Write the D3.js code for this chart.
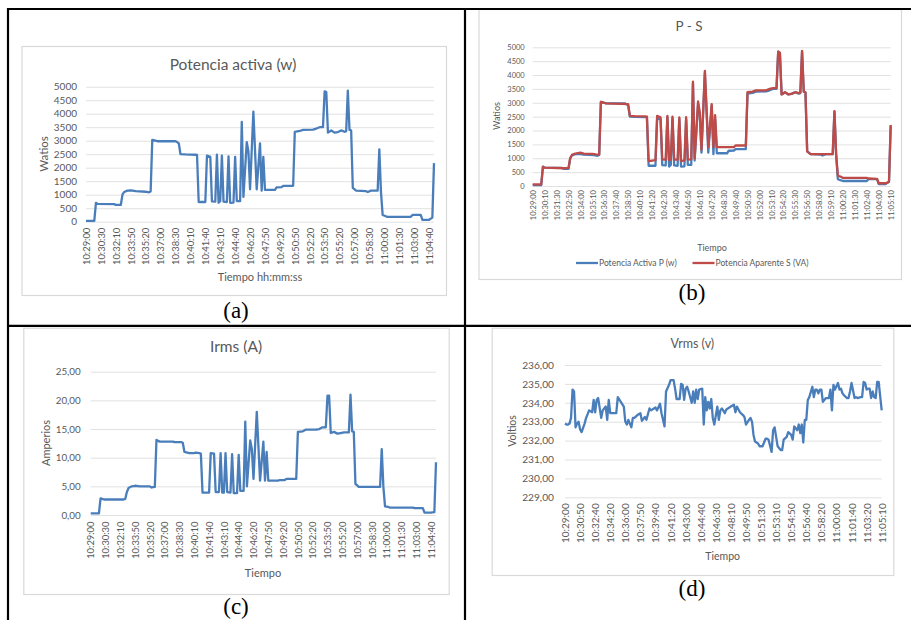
<!DOCTYPE html>
<html>
<head>
<meta charset="utf-8">
<script src="https://cdn.jsdelivr.net/npm/d3@7"></script>
<style>
body { margin: 0; background: #fff; }
svg text { font-family: Lato, "Open Sans", sans-serif; fill: #595959; }
svg text.cap { font-family: "Liberation Serif", "DejaVu Serif", serif; fill: #000; }
</style>
</head>
<body>
<div id="fig"></div>
<script>
/** Mediciones 10:29:00 - 11:05:10 (211 muestras) *****/

var sampleCount = 211;

// tick labels (one every 9, 7 and 10 samples)
var ticksAC = ["10:29:00","10:30:30","10:32:10","10:33:50","10:35:20","10:37:00","10:38:30","10:40:10",
    "10:41:40","10:43:10","10:44:40","10:46:20","10:47:50","10:49:20","10:50:50","10:52:20","10:53:50",
    "10:55:20","10:57:00","10:58:30","11:00:00","11:01:30","11:03:00","11:04:40"];
var ticksB = ["10:29:00","10:30:10","10:31:30","10:32:50","10:34:00","10:35:10","10:36:30","10:37:40",
    "10:38:50","10:40:10","10:41:20","10:42:30","10:43:40","10:44:50","10:46:10","10:47:20","10:48:30",
    "10:49:40","10:50:50","10:52:00","10:53:10","10:54:20","10:55:30","10:56:50","10:58:00","10:59:10",
    "11:00:20","11:01:30","11:02:40","11:04:00","11:05:10"];
var ticksD = ["10:29:00","10:30:50","10:32:40","10:34:20","10:36:00","10:37:50","10:39:40","10:41:20",
    "10:43:00","10:44:40","10:46:30","10:48:10","10:49:50","10:51:30","10:53:10","10:54:50","10:56:40",
    "10:58:20","11:00:00","11:01:40","11:03:20","11:05:10"];

// Potencia activa P (W): sample index / value
var pIdx = [0,5,6,7,17,18,21,22,23,25,27,30,36,38,39,40,42,43,54,55,56,57,60,66,67,68,72,73,75,76,78,79,80,81,
    82,83,85,86,87,89,90,91,93,94,95,97,98,99,101,103,105,106,107,108,114,115,118,119,125,126,129,131,137,139,
    141,143,144,145,146,148,150,152,154,156,157,158,159,160,161,163,169,170,172,176,177,178,179,181,182,196,
    197,202,203,207,209,210];
var pVal = [30,30,700,660,650,620,620,1000,1100,1150,1160,1130,1110,1090,1120,3030,3000,2980,2980,2950,2900,
    2500,2490,2480,2470,730,730,2450,2400,750,740,2480,700,760,2450,740,730,2420,700,710,2400,760,760,3700,920,
    2950,2600,1200,4080,1200,2900,1150,2400,1180,1180,1270,1280,1330,1330,3330,3360,3400,3410,3450,3500,3500,
    4830,4800,3300,3380,3300,3320,3380,3330,3350,4850,3400,3380,1250,1150,1130,1100,1150,1150,2680,1100,250,
    200,180,180,250,250,70,70,150,2170];

// Potencia aparente S (VA)
var sIdx = [0,5,6,7,19,21,22,23,25,28,30,35,37,39,40,42,43,52,56,57,60,66,67,68,72,73,75,76,78,79,80,81,82,
    83,85,86,87,89,90,91,93,94,95,97,98,99,101,103,105,106,107,108,118,119,125,126,129,131,137,139,141,143,
    144,145,146,148,150,152,154,156,157,158,159,160,161,163,176,177,178,179,181,182,196,197,202,203,207,209,210];
var sVal = [60,60,690,660,640,650,1000,1120,1170,1200,1170,1160,1140,1130,3030,3000,2980,2960,2950,2530,2520,
    2510,2500,900,930,2530,2480,960,950,2530,930,960,2500,950,950,2470,900,920,2480,950,960,3760,1000,3050,
    2650,1300,4150,1400,2950,1400,2550,1400,1400,1460,1460,3380,3400,3450,3450,3500,3530,3530,4850,4800,3300,
    3380,3300,3330,3380,3350,3370,4870,3400,3380,1250,1150,1150,2700,1150,370,330,290,290,270,260,100,100,150,2200];

// Irms (A)
var iIdx = [0,5,6,7,8,20,21,22,23,25,27,30,36,37,39,40,42,50,51,55,56,57,60,63,64,66,67,68,72,73,75,76,78,79,
    80,81,82,83,85,86,87,89,90,91,93,94,95,97,98,99,101,103,105,106,107,108,114,115,118,119,125,126,129,131,
    137,139,141,143,144,145,146,148,150,152,154,156,157,158,159,160,161,162,163,176,177,178,179,181,182,196,
    197,202,203,207,209,210];
var iVal = [0.3,0.3,2.9,2.8,2.7,2.7,2.8,4.0,4.7,5.0,5.1,5.0,5.0,4.8,4.9,13.1,12.8,12.8,12.7,12.7,12.6,11.0,10.8,
    10.8,10.9,10.8,10.7,3.9,3.9,10.8,10.7,4.0,4.0,10.8,3.9,3.9,10.8,4.0,3.9,10.6,3.8,3.8,10.5,4.2,4.2,16.3,5.0,
    13.0,11.5,6.3,18.0,6.0,12.8,6.0,11.0,6.0,6.0,6.1,6.1,6.3,6.3,14.5,14.6,14.9,14.9,15.0,15.3,15.3,20.8,20.8,
    14.3,14.5,14.2,14.3,14.4,14.4,14.4,21.0,14.6,14.5,5.4,5.2,4.9,4.9,11.5,4.9,1.5,1.4,1.3,1.3,1.2,1.2,0.4,0.4,
    0.5,9.2];

// Vrms (V)
var vIdx = [0,1,2,3,4,5,6,7,8,9,10,11,13,14,16,18,19,20,21,22,24,25,27,28,29,30,32,34,35,37,39,40,41,42,44,45,
    46,48,50,51,53,54,56,57,59,60,61,63,64,66,67,69,70,72,73,74,76,77,78,79,80,81,82,84,85,86,87,88,89,91,92,
    93,94,95,96,97,98,99,101,102,103,104,106,107,109,110,112,113,114,116,118,119,120,122,123,124,125,126,128,
    129,131,133,134,135,137,138,139,140,141,143,144,145,147,148,150,151,152,154,155,156,157,158,159,160,161,
    162,164,165,166,167,168,169,170,171,173,175,176,177,178,179,181,182,183,184,185,187,188,189,190,192,193,
    194,196,197,198,199,200,201,202,203,204,205,206,207,208,210];
var vVal = [232.9,232.85,232.85,232.9,233.2,234.7,234.6,232.7,232.9,233.0,232.6,232.45,232.9,233.2,233.6,233.5,
    234.15,233.5,234.15,234.25,233.2,233.6,233.8,233.1,234.15,233.45,233.45,233.45,234.3,234.05,233.8,233.0,
    232.85,233.1,232.7,233.2,233.2,233.35,233.45,233.05,233.25,233.1,233.7,233.6,233.7,233.75,233.6,233.95,
    233.45,232.75,234.6,234.95,235.2,235.2,234.75,234.2,234.2,235.0,234.95,234.15,234.75,234.85,234.6,234.0,
    234.6,234.0,234.7,234.2,234.7,234.75,232.85,234.3,233.6,234.05,233.7,234.2,233.2,232.85,233.8,233.1,233.6,
    233.7,233.45,233.65,233.75,233.8,233.9,233.5,233.8,233.5,233.35,233.25,232.85,233.1,233.2,233.0,232.3,
    231.95,231.85,231.7,231.7,232.1,232.1,232.05,231.4,232.55,232.7,232.2,231.7,231.5,231.5,232.05,232.2,
    232.45,232.3,232.05,232.75,232.55,232.85,232.4,232.85,231.9,233.1,233.1,234.15,234.3,234.85,234.3,234.7,
    234.7,234.5,234.7,234.7,234.05,234.25,234.25,234.7,233.6,234.95,234.7,235.05,234.7,234.75,234.5,
    234.4,234.25,234.25,234.6,235.05,234.25,234.3,234.25,234.3,234.3,235.1,235.05,234.7,234.75,234.75,234.25,
    234.6,234.3,234.25,235.1,235.1,233.6];

//**************************************************/

var blue = "#4a7ebb";
var red = "#be4b48";
var grey = "#d9d9d9";
var es = d3.formatLocale({decimal: ",", thousands: ".", grouping: [3], currency: ["", "€"]});

var svg = d3.select("#fig").append("svg")
    .attr("width", 911)
    .attr("height", 620);

function panel(o) {
    var g = svg.append("g");

    // chart area border
    g.append("rect")
        .attr("x", o.box[0] + 0.5)
        .attr("y", o.box[1] + 0.5)
        .attr("width", o.box[2] - o.box[0])
        .attr("height", o.box[3] - o.box[1])
        .style("fill", "#fff")
        .style("stroke", grey)
        .style("stroke-width", 1.2);

    var x = d3.scaleLinear().domain([0, sampleCount - 1]).range([o.left, o.right]);
    var y = d3.scaleLinear().domain(o.yDomain).range([o.bottom, o.top]);

    // gridlines + value labels
    var ya = g.append("g")
        .attr("transform", "translate(" + o.left + ",0)")
        .call(d3.axisLeft(y).tickValues(o.yTicks).tickFormat(o.yFormat)
            .tickSize(-(o.right - o.left)).tickPadding(o.yPad));
    ya.select(".domain").remove();
    ya.selectAll("line").style("stroke", grey).style("stroke-width", 0.8);
    ya.selectAll("text").style("font-size", o.yFont + "px").style("fill", "#595959");

    // time labels, rotated
    var xa = g.append("g")
        .attr("transform", "translate(0," + o.bottom + ")")
        .call(d3.axisBottom(x)
            .tickValues(o.xLabels.map(function(d, i) { return i * o.step; }))
            .tickFormat(function(d, i) { return o.xLabels[i]; })
            .tickSize(0));
    xa.select(".domain").remove();
    xa.selectAll("text")
        .attr("transform", "rotate(-90)")
        .attr("text-anchor", "end")
        .attr("x", -o.xPad)
        .attr("y", 0)
        .attr("dy", "0.35em")
        .style("font-size", o.xFont + "px")
        .style("fill", "#595959");

    // lines
    var line = d3.line()
        .x(function(d) { return x(d[0]); })
        .y(function(d) { return y(d[1]); });
    o.series.forEach(function(s) {
        g.append("path")
            .datum(d3.zip(s.idx, s.val))
            .attr("d", line)
            .style("fill", "none")
            .style("stroke", s.color)
            .style("stroke-width", 2.3)
            .style("stroke-linejoin", "round");
    });

    // title
    g.append("text")
        .attr("x", o.title[1])
        .attr("y", o.title[2])
        .attr("text-anchor", "middle")
        .style("font-size", o.title[3] + "px")
        .text(o.title[0]);

    // axis titles
    g.append("text")
        .attr("transform", "translate(" + o.yTitle[1] + "," + o.yTitle[2] + ") rotate(-90)")
        .attr("text-anchor", "middle")
        .style("font-size", o.yTitle[3] + "px")
        .text(o.yTitle[0]);
    g.append("text")
        .attr("x", o.xTitle[1])
        .attr("y", o.xTitle[2])
        .attr("text-anchor", "middle")
        .style("font-size", o.xTitle[3] + "px")
        .text(o.xTitle[0]);

    // caption
    svg.append("text")
        .attr("class", "cap")
        .attr("x", o.cap[1])
        .attr("y", o.cap[2])
        .attr("text-anchor", "middle")
        .style("font-size", "23px")
        .text(o.cap[0]);

    return g;
}

// (a)
panel({
    box: [21.5, 46, 446, 295], left: 86, right: 434, top: 86.7, bottom: 221.7,
    yDomain: [0, 5000], yTicks: d3.range(0, 5001, 500), yFormat: d3.format("d"), yPad: 9, yFont: 10,
    xLabels: ticksAC, step: 9, xPad: 6, xFont: 9.4,
    series: [{idx: pIdx, val: pVal, color: blue}],
    title: ["Potencia activa (w)", 233, 70, 15.5],
    yTitle: ["Watios", 48, 154, 11.5],
    xTitle: ["Tiempo hh:mm:ss", 260, 281, 11],
    cap: ["(a)", 236, 318]
});

// (b)
var gb = panel({
    box: [478.5, 9, 901, 279], left: 532.7, right: 890.7, top: 47.3, bottom: 186,
    yDomain: [0, 5000], yTicks: d3.range(0, 5001, 500), yFormat: d3.format("d"), yPad: 8, yFont: 7.5,
    xLabels: ticksB, step: 7, xPad: 4, xFont: 7.6,
    series: [{idx: pIdx, val: pVal, color: blue}, {idx: sIdx, val: sVal, color: red}],
    title: ["P - S", 689, 31, 13.5],
    yTitle: ["Watios", 500, 116, 9],
    xTitle: ["Tiempo", 712, 251, 9],
    cap: ["(b)", 692, 300]
});

// legend (b)
var legend = [["Potencia Activa P (w)", blue, 576], ["Potencia Aparente S (VA)", red, 692.5]];
legend.forEach(function(l) {
    gb.append("line")
        .attr("x1", l[2]).attr("x2", l[2] + 22)
        .attr("y1", 263).attr("y2", 263)
        .style("stroke", l[1]).style("stroke-width", 2.3);
    gb.append("text")
        .attr("x", l[2] + 23).attr("y", 266)
        .style("font-size", "8.5px")
        .text(l[0]);
});

// (c)
panel({
    box: [23.3, 327.7, 448.7, 594], left: 90.7, right: 436, top: 371.7, bottom: 515,
    yDomain: [0, 25], yTicks: d3.range(0, 26, 5), yFormat: es.format(".2f"), yPad: 10, yFont: 9.8,
    xLabels: ticksAC, step: 9, xPad: 6.5, xFont: 9.4,
    series: [{idx: iIdx, val: iVal, color: blue}],
    title: ["Irms (A)", 236, 352, 15.5],
    yTitle: ["Amperios", 50, 443, 11],
    xTitle: ["Tiempo", 263, 577, 11],
    cap: ["(c)", 236, 614]
});

// (d)
panel({
    box: [491.7, 327.7, 893.3, 575], left: 565, right: 881.7, top: 365, bottom: 497.3,
    yDomain: [229, 236], yTicks: d3.range(229, 236.5, 1), yFormat: es.format(".2f"), yPad: 11, yFont: 10.2,
    xLabels: ticksD, step: 10, xPad: 6, xFont: 10,
    series: [{idx: vIdx, val: vVal, color: blue}],
    title: ["Vrms (v)", 692.3, 348, 12.5],
    yTitle: ["Voltios", 516, 431, 10.5],
    xTitle: ["Tiempo", 722.7, 560, 10.5],
    cap: ["(d)", 692, 596]
});

// table rules
var rules = [[7, 9, 911, 9], [8, 8, 8, 620], [465, 8, 465, 620], [7, 325.8, 911, 325.8]];
svg.selectAll(".rule")
    .data(rules)
  .enter().append("line")
    .attr("class", "rule")
    .attr("x1", function(d) { return d[0]; })
    .attr("y1", function(d) { return d[1]; })
    .attr("x2", function(d) { return d[2]; })
    .attr("y2", function(d) { return d[3]; })
    .style("stroke", "#000")
    .style("stroke-width", 2.2);
</script>
</body>
</html>
